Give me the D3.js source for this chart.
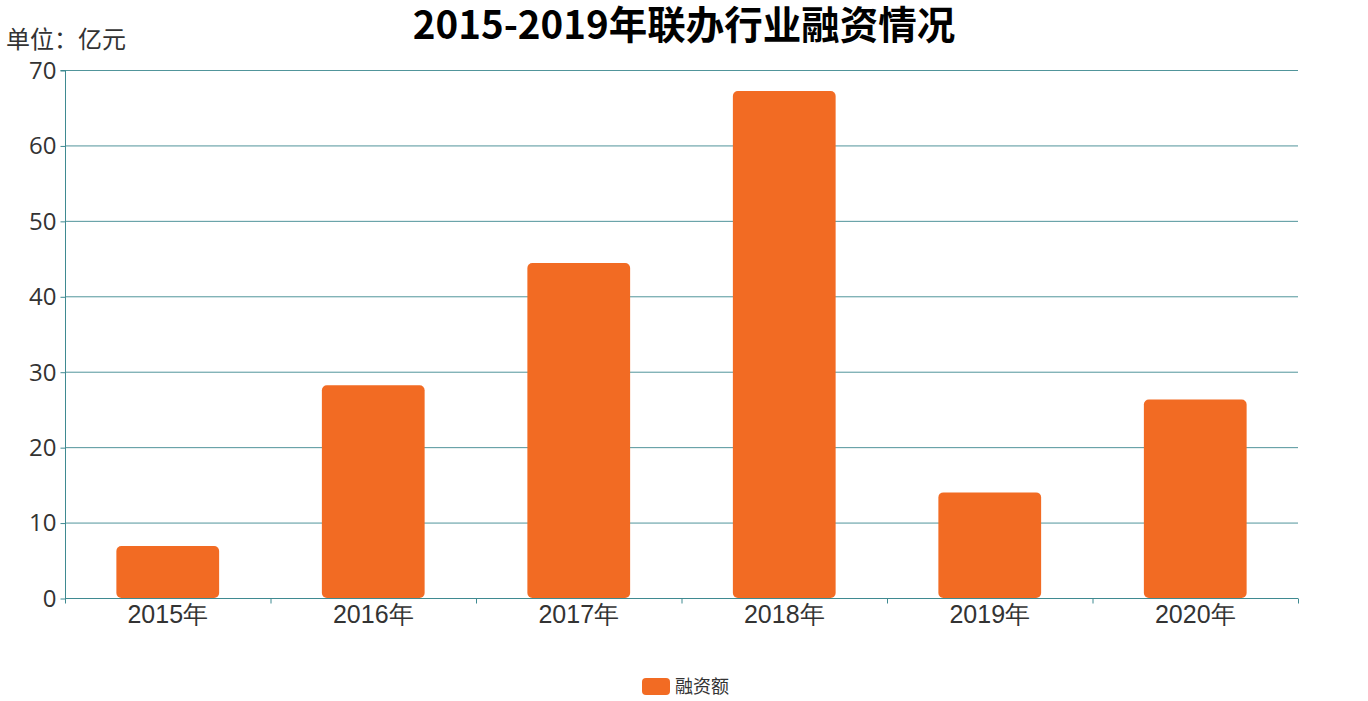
<!DOCTYPE html>
<html><head><meta charset="utf-8">
<script src="https://cdn.jsdelivr.net/npm/d3@7/dist/d3.min.js"></script>
<style>html,body{margin:0;padding:0;background:#fff;}svg{display:block;font-family:"Microsoft YaHei","Noto Sans CJK SC",sans-serif;}</style>
</head><body>
<svg id="chart" width="1368" height="701"></svg>
<script>
const categories = ["2015年","2016年","2017年","2018年","2019年","2020年"];
const values = [6.9, 28.2, 44.4, 67.2, 14.0, 26.3];
const yTicks = [0,10,20,30,40,50,60,70];
const seriesName = "融资额";
const titleText = "2015-2019年联办行业融资情况";
const unitText = "单位：亿元";

const svg = d3.select("#chart");
const m = {l:65, r:1298, t:70, b:598};
const axisColor = "#3f8a91";
const barColor = "#f26b23";

const x = d3.scaleBand().domain(categories).range([m.l, m.r]).paddingInner(0).paddingOuter(0);
const y = d3.scaleLinear().domain([0,70]).range([m.b, m.t]);

// grid
svg.append("g").selectAll("line").data(yTicks).join("line")
  .attr("x1", m.l).attr("x2", m.r)
  .attr("y1", d=>y(d)+0.5).attr("y2", d=>y(d)+0.5)
  .attr("stroke", axisColor).attr("stroke-width",1).attr("opacity",0.9);

// bars
const bw = x.bandwidth()*0.5;
svg.append("g").selectAll("rect").data(values).join("rect")
  .attr("x", (d,i)=>x(categories[i]) + (x.bandwidth()-bw)/2)
  .attr("y", d=>y(d))
  .attr("width", bw)
  .attr("height", d=>y(0)-y(d))
  .attr("rx", 5).attr("ry",5)
  .attr("fill", barColor);

// y axis
const yAxis = d3.axisLeft(y).tickValues(yTicks).tickSize(5).tickPadding(4);
const gy = svg.append("g").attr("transform",`translate(${m.l+0.5},0)`).call(yAxis);
gy.select(".domain").attr("stroke", axisColor).attr("d", `M-5,${m.t+0.5}H0V${m.b+0.5}`);
gy.selectAll(".tick line").attr("stroke", axisColor).attr("transform","translate(0,0.5)");
gy.selectAll(".tick text").attr("fill","#333").attr("font-size",24).attr("dy","0.35em")
  .attr("font-family","'Open Sans','Noto Sans',sans-serif");

// x axis
const xAxis = d3.axisBottom(x).tickSize(0).tickPadding(6);
const gx = svg.append("g").attr("transform",`translate(0,${m.b+0.5})`).call(xAxis);
gx.select(".domain").attr("stroke", axisColor).attr("stroke-width",1.2).attr("d",`M${m.l},0H${m.r}`);
gx.selectAll(".tick text").attr("fill","#333").attr("font-size",25).attr("dy","0.72em");
// boundary ticks
const bounds = categories.map(c=>x(c)).concat([m.r]);
gx.append("g").selectAll("line").data(bounds).join("line")
  .attr("x1",d=>d+0.5).attr("x2",d=>d+0.5).attr("y1",0).attr("y2",5)
  .attr("stroke",axisColor);

// title
svg.append("text").attr("x",684).attr("y",39).attr("text-anchor","middle")
  .attr("font-size",38.5).attr("font-weight","bold").attr("fill","#000").text(titleText);

// unit label
svg.append("text").attr("x",6).attr("y",48).attr("font-size",24).attr("fill","#333").text(unitText);

// legend
const lg = svg.append("g").attr("transform","translate(642,678)");
lg.append("rect").attr("width",28).attr("height",17).attr("rx",4).attr("fill",barColor);
lg.append("text").attr("x",33).attr("y",15).attr("font-size",18).attr("fill","#333").text(seriesName);
</script>
</body></html>
